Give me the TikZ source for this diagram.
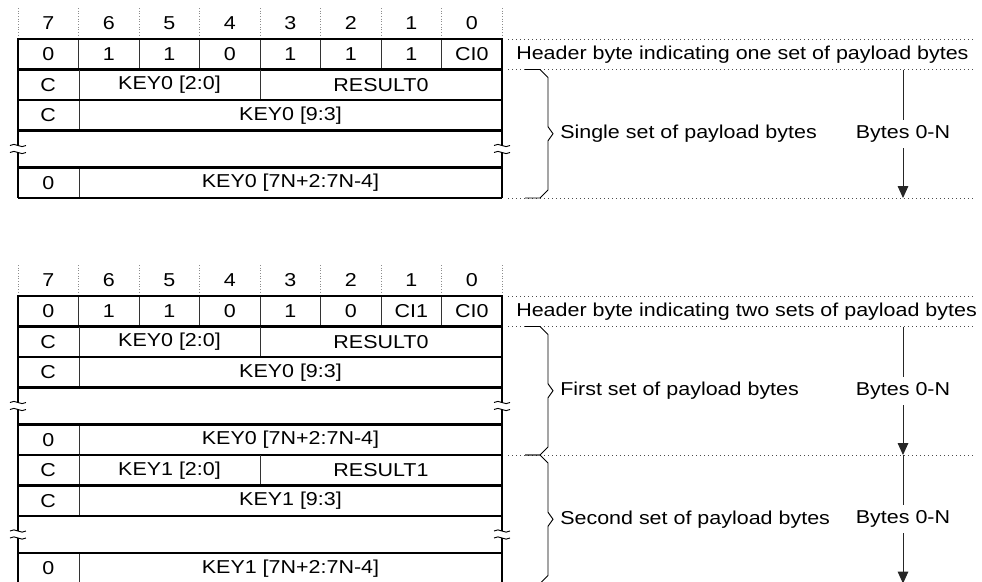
\documentclass[tikz,border=0pt]{standalone}
\usepackage{fontspec}
\setmainfont{Liberation Sans}[FakeStretch=1.15]
\usetikzlibrary{arrows.meta}

\begin{document}
\begin{tikzpicture}[x=0.75pt, y=-0.75pt,
    thickline/.style={line width=1.6pt},
    thinline/.style={line width=0.7pt, black!80},
    breakmark/.style={line width=0.7pt, black},
    bitdots/.style={black!45, line width=0.5pt, dash pattern=on 0.5pt off 1.5pt},
    guide/.style={black!70, line width=0.6pt, dash pattern=on 0.6pt off 2.4pt},
    cell/.style={inner sep=0pt, font=\fontsize{14}{16}\selectfont},
    note/.style={cell, anchor=west},
    bytes/.style={cell, fill=white, inner xsep=1pt, inner ysep=4pt},
    bytearrow/.style={-{Triangle[length=9pt,width=8pt]}, line width=0.75pt, black!85}]
    \useasboundingbox (0,0) rectangle (982,582);

    % Header byte with one set of payload bytes
    \begin{scope}[shift={(0,39)}]
        \foreach \i in {0,...,8}
            \draw[bitdots] (18+60.5*\i,-31) -- (18+60.5*\i,-3);
        \foreach \b [count=\i from 0] in {7,...,0}
            \node[cell] (oneBit\b) at (48.25+60.5*\i,-16) {\b};
        \foreach \v [count=\i from 0] in {0,1,1,0,1,1,1,CI0}
            \node[cell] (oneHdr\i) at (48.25+60.5*\i,15.25) {\v};
        \foreach \i in {1,...,7}
            \draw[thinline] (18+60.5*\i,0) -- (18+60.5*\i,30.5);
        \draw[thickline] (18,0) rectangle (502,30.5);
        \draw[guide] (508,0) -- (975,0);
        \draw[guide] (508,30.5) -- (975,30.5);
        \node[note] (oneHdrNote) at (516,15.25) {Header byte indicating one set of payload bytes};

        % Single set of payload bytes
        \begin{scope}[shift={(0,30.5)}]
            \draw[thinline] (79,0) -- (79,61) (260,0) -- (260,30.5) (79,98) -- (79,128.5);
            \draw[thickline] (18,30.5) -- (502,30.5) (18,61) -- (502,61) (18,98) -- (502,98) (18,128.5) -- (502,128.5);
            \draw[thickline] (18,0) -- (18,76) (18,83) -- (18,128.5) (502,0) -- (502,76) (502,83) -- (502,128.5);
            \foreach \x in {18,502} \foreach \y in {76,83}
                \draw[breakmark] (\x-8,\y) .. controls (\x-3,\y-4) and (\x+3,\y+4) .. (\x+8,\y);
            \node[cell] (oneC0) at (48.25,15.25) {C};
            \node[cell] (oneKeyLo) at (169.5,15.25) {KEY0 [2:0]};
            \node[cell] (oneRes) at (381,15.25) {RESULT0};
            \node[cell] (oneC1) at (48.25,45.75) {C};
            \node[cell] (oneKeyHi) at (290.5,45.75) {KEY0 [9:3]};
            \node[cell] (oneEnd) at (48.25,113.25) {0};
            \node[cell] (oneKeyN) at (290.5,113.25) {KEY0 [7N+2:7N-4]};
            \draw[guide] (508,128.5) -- (975,128.5);
            \draw[breakmark] (525,0) -- (540,0) -- (548,8) -- (548,57.25) -- (553,64.25) -- (548,71.25) -- (548,120.5) -- (540,128.5) -- (525,128.5);
            \node[note] (oneSet) at (560,64.25) {Single set of payload bytes};
            \coordinate (oneTop) at (903,0);
            \coordinate (oneBot) at (903,128.5);
            \draw[bytearrow] (oneTop) -- (oneBot);
            \node[bytes] (oneBytes) at (903,64.25) {Bytes 0-N};
        \end{scope}
    \end{scope}

    % Header byte with two sets of payload bytes
    \begin{scope}[shift={(0,296)}]
        \foreach \i in {0,...,8}
            \draw[bitdots] (18+60.5*\i,-31) -- (18+60.5*\i,-3);
        \foreach \b [count=\i from 0] in {7,...,0}
            \node[cell] (twoBit\b) at (48.25+60.5*\i,-16) {\b};
        \foreach \v [count=\i from 0] in {0,1,1,0,1,0,CI1,CI0}
            \node[cell] (twoHdr\i) at (48.25+60.5*\i,15.25) {\v};
        \foreach \i in {1,...,7}
            \draw[thinline] (18+60.5*\i,0) -- (18+60.5*\i,30.5);
        \draw[thickline] (18,0) rectangle (502,30.5);
        \draw[guide] (508,0) -- (975,0);
        \draw[guide] (508,30.5) -- (975,30.5);
        \node[note] (twoHdrNote) at (516,15.25) {Header byte indicating two sets of payload bytes};

        % First set of payload bytes
        \begin{scope}[shift={(0,30.5)}]
            \draw[thinline] (79,0) -- (79,61) (260,0) -- (260,30.5) (79,98) -- (79,128.5);
            \draw[thickline] (18,30.5) -- (502,30.5) (18,61) -- (502,61) (18,98) -- (502,98) (18,128.5) -- (502,128.5);
            \draw[thickline] (18,0) -- (18,76) (18,83) -- (18,128.5) (502,0) -- (502,76) (502,83) -- (502,128.5);
            \foreach \x in {18,502} \foreach \y in {76,83}
                \draw[breakmark] (\x-8,\y) .. controls (\x-3,\y-4) and (\x+3,\y+4) .. (\x+8,\y);
            \node[cell] (firstC0) at (48.25,15.25) {C};
            \node[cell] (firstKeyLo) at (169.5,15.25) {KEY0 [2:0]};
            \node[cell] (firstRes) at (381,15.25) {RESULT0};
            \node[cell] (firstC1) at (48.25,45.75) {C};
            \node[cell] (firstKeyHi) at (290.5,45.75) {KEY0 [9:3]};
            \node[cell] (firstEnd) at (48.25,113.25) {0};
            \node[cell] (firstKeyN) at (290.5,113.25) {KEY0 [7N+2:7N-4]};
            \draw[guide] (508,128.5) -- (975,128.5);
            \draw[breakmark] (525,0) -- (540,0) -- (548,8) -- (548,57.25) -- (553,64.25) -- (548,71.25) -- (548,120.5) -- (540,128.5) -- (525,128.5);
            \node[note] (firstSet) at (560,64.25) {First set of payload bytes};
            \coordinate (firstTop) at (903,0);
            \coordinate (firstBot) at (903,128.5);
            \draw[bytearrow] (firstTop) -- (firstBot);
            \node[bytes] (firstBytes) at (903,64.25) {Bytes 0-N};
        \end{scope}

        % Second set of payload bytes
        \begin{scope}[shift={(0,159)}]
            \draw[thinline] (79,0) -- (79,61) (260,0) -- (260,30.5) (79,98) -- (79,128.5);
            \draw[thickline] (18,30.5) -- (502,30.5) (18,61) -- (502,61) (18,98) -- (502,98) (18,128.5) -- (502,128.5);
            \draw[thickline] (18,0) -- (18,76) (18,83) -- (18,128.5) (502,0) -- (502,76) (502,83) -- (502,128.5);
            \foreach \x in {18,502} \foreach \y in {76,83}
                \draw[breakmark] (\x-8,\y) .. controls (\x-3,\y-4) and (\x+3,\y+4) .. (\x+8,\y);
            \node[cell] (secondC0) at (48.25,15.25) {C};
            \node[cell] (secondKeyLo) at (169.5,15.25) {KEY1 [2:0]};
            \node[cell] (secondRes) at (381,15.25) {RESULT1};
            \node[cell] (secondC1) at (48.25,45.75) {C};
            \node[cell] (secondKeyHi) at (290.5,45.75) {KEY1 [9:3]};
            \node[cell] (secondEnd) at (48.25,113.25) {0};
            \node[cell] (secondKeyN) at (290.5,113.25) {KEY1 [7N+2:7N-4]};
            \draw[guide] (508,128.5) -- (975,128.5);
            \draw[breakmark] (525,0) -- (540,0) -- (548,8) -- (548,57.25) -- (553,64.25) -- (548,71.25) -- (548,120.5) -- (540,128.5) -- (525,128.5);
            \node[note] (secondSet) at (560,64.25) {Second set of payload bytes};
            \coordinate (secondTop) at (903,0);
            \coordinate (secondBot) at (903,128.5);
            \draw[bytearrow] (secondTop) -- (secondBot);
            \node[bytes] (secondBytes) at (903,64.25) {Bytes 0-N};
        \end{scope}
    \end{scope}
\end{tikzpicture}
\end{document}
